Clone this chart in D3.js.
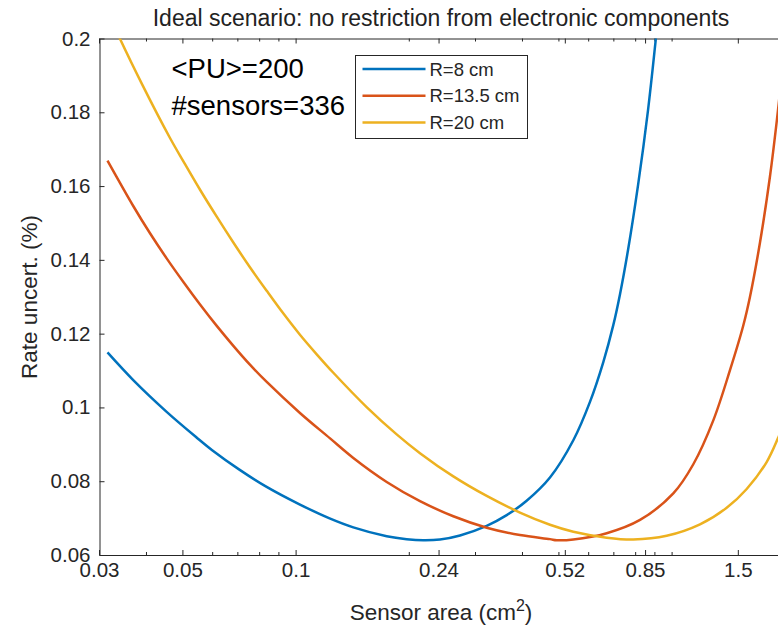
<!DOCTYPE html>
<html lang="en">
<head>
    <meta charset="UTF-8">
    <title>Ideal scenario: no restriction from electronic components</title>
    <script src="https://d3js.org/d3.v7.min.js"></script>
    <style>
        body {
            margin: 0;
            background: #fff;
        }
        svg {
            display: block;
            font-family: "Liberation Sans", Arial, Helvetica, sans-serif;
        }
    </style>
</head>
<body>
    <div id="chart"></div>

    <script>
        // series (sensor area in cm2, rate uncertainty in %)
        const seriesNames = ["R=8 cm", "R=13.5 cm", "R=20 cm"];
        const seriesColors = ["#0072BD", "#D95319", "#EDB120"];

        const r8Area = [0.0316, 0.0370, 0.0454, 0.0546, 0.0600, 0.0707, 0.0833, 0.1021, 0.1227, 0.1424,
            0.1747, 0.1974, 0.2186, 0.2421, 0.2737, 0.3223, 0.3643, 0.4116, 0.4748, 0.5478,
            0.6066, 0.6582, 0.6997, 0.7291, 0.7656, 0.8141, 0.8656, 0.9032, 0.9144];
        const r8Rate = [0.1149, 0.1074, 0.0988, 0.0918, 0.0884, 0.0832, 0.0786, 0.0738, 0.0700, 0.0675,
            0.0651, 0.0643, 0.0640, 0.0642, 0.0653, 0.0679, 0.0708, 0.0747, 0.0810, 0.0911,
            0.1015, 0.1123, 0.1223, 0.1307, 0.1426, 0.1602, 0.1806, 0.1977, 0.2031];

        const r13Area = [0.0316, 0.0370, 0.0410, 0.0454, 0.0503, 0.0557, 0.0617, 0.0683, 0.0756, 0.0838,
            0.1027, 0.1235, 0.1424, 0.1747, 0.2142, 0.2627, 0.3223, 0.3951, 0.4748, 0.4947,
            0.5478, 0.6721, 0.8241, 1.0104, 1.1422, 1.2909, 1.4298, 1.5511, 1.6162, 1.7182,
            1.8264, 1.9100, 2.0000];
        const r13Rate = [0.1669, 0.1546, 0.1472, 0.1404, 0.1340, 0.1279, 0.1221, 0.1167, 0.1116, 0.1069,
            0.0985, 0.0916, 0.0863, 0.0798, 0.0746, 0.0705, 0.0674, 0.0654, 0.0643, 0.0640,
            0.0642, 0.0659, 0.0695, 0.0767, 0.0846, 0.0965, 0.1101, 0.1222, 0.1300, 0.1447,
            0.1626, 0.1788, 0.1976];

        const r20Area = [0.0316, 0.0339, 0.0391, 0.0463, 0.0503, 0.0557, 0.0617, 0.0683, 0.0756, 0.0838,
            0.0927, 0.1027, 0.1138, 0.1260, 0.1545, 0.1857, 0.2142, 0.2627, 0.3223, 0.3951,
            0.4748, 0.5478, 0.6721, 0.7909, 0.9703, 1.1899, 1.4013, 1.5839, 1.7898, 1.9187,
            2.0000];
        const r20Rate = [0.2073, 0.2005, 0.1875, 0.1731, 0.1667, 0.1590, 0.1517, 0.1447, 0.1380, 0.1316,
            0.1255, 0.1197, 0.1144, 0.1094, 0.1001, 0.0927, 0.0876, 0.0813, 0.0760, 0.0715,
            0.0682, 0.0663, 0.0647, 0.0642, 0.0652, 0.0683, 0.0728, 0.0779, 0.0852, 0.0917,
            0.0963];

        const xTickValues = [0.03, 0.05, 0.1, 0.24, 0.52, 0.85, 1.5];
        const xTickLabels = ["0.03", "0.05", "0.1", "0.24", "0.52", "0.85", "1.5"];
        const xMinorTicks = [0.04, 0.06, 0.07, 0.08, 0.09, 0.2, 0.3, 0.4, 0.5, 0.6, 0.7, 0.8, 0.9, 1, 2];
        const yTickValues = [0.06, 0.08, 0.1, 0.12, 0.14, 0.16, 0.18, 0.2];
        const yTickLabels = ["0.06", "0.08", "0.1", "0.12", "0.14", "0.16", "0.18", "0.2"];

        const W = 778, H = 626;
        const axisColor = "#262626";

        // plot box: left 99, top 38.5, bottom 555; right edge falls just outside the window
        const x = d3.scaleLog()
            .domain([0.03, 2])
            .range([99, 99 + Math.log10(2 / 0.03) * 376]);
        const y = d3.scaleLinear()
            .domain([0.06, 0.2])
            .range([555, 38.5]);

        const svg = d3.select("#chart")
            .append("svg")
            .attr("width", W)
            .attr("height", H);

        svg.append("defs").append("clipPath")
            .attr("id", "plot-clip")
            .append("rect")
            .attr("x", x.range()[0])
            .attr("y", y.range()[1])
            .attr("width", x.range()[1] - x.range()[0])
            .attr("height", y.range()[0] - y.range()[1]);

        function styleAxis(g, showDomain) {
            g.attr("font-family", null).attr("font-size", null);
            g.selectAll("line").attr("stroke", axisColor);
            g.select(".domain").attr("stroke", axisColor).attr("display", showDomain ? null : "none");
            g.selectAll("text")
                .attr("fill", axisColor)
                .style("font-size", "20.5px");
        }

        // bottom axis (major + minor, ticks pointing inward)
        svg.append("g")
            .attr("transform", "translate(0,555)")
            .call(d3.axisBottom(x).tickValues(xMinorTicks).tickFormat("").tickSize(-3).tickSizeOuter(0))
            .call(g => styleAxis(g, false));
        svg.append("g")
            .attr("transform", "translate(0,555)")
            .call(d3.axisBottom(x).tickValues(xTickValues)
                .tickFormat((d, i) => xTickLabels[i])
                .tickSize(-5).tickSizeOuter(0).tickPadding(7))
            .call(g => styleAxis(g, true));

        // top axis
        svg.append("g")
            .attr("transform", "translate(0,38.5)")
            .call(d3.axisTop(x).tickValues(xMinorTicks).tickFormat("").tickSize(-3).tickSizeOuter(0))
            .call(g => styleAxis(g, false));
        svg.append("g")
            .attr("transform", "translate(0,38.5)")
            .call(d3.axisTop(x).tickValues(xTickValues).tickFormat("").tickSize(-5).tickSizeOuter(0))
            .call(g => styleAxis(g, true));

        // left axis
        svg.append("g")
            .attr("transform", "translate(99.5,0)")
            .call(d3.axisLeft(y).tickValues(yTickValues)
                .tickFormat((d, i) => yTickLabels[i])
                .tickSize(-5).tickSizeOuter(0).tickPadding(9))
            .call(g => styleAxis(g, true));

        // curves
        const line = d3.line()
            .x(d => x(d[0]))
            .y(d => y(d[1]))
            .curve(d3.curveCatmullRom.alpha(0.5));

        const series = [
            d3.zip(r8Area, r8Rate),
            d3.zip(r13Area, r13Rate),
            d3.zip(r20Area, r20Rate)
        ];

        svg.append("g")
            .attr("clip-path", "url(#plot-clip)")
            .selectAll("path")
            .data(series)
            .join("path")
            .attr("fill", "none")
            .attr("stroke", (d, i) => seriesColors[i])
            .attr("stroke-width", 2.5)
            .attr("d", line);

        // title and axis labels
        svg.append("text")
            .attr("x", 441)
            .attr("y", 26)
            .attr("text-anchor", "middle")
            .attr("fill", "#222")
            .style("font-size", "23px")
            .text("Ideal scenario: no restriction from electronic components");

        const xLabel = svg.append("text")
            .attr("x", 441)
            .attr("y", 620)
            .attr("text-anchor", "middle")
            .attr("fill", axisColor)
            .style("font-size", "22.5px");
        xLabel.append("tspan").text("Sensor area (cm");
        xLabel.append("tspan").attr("dy", -9).style("font-size", "16px").text("2");
        xLabel.append("tspan").attr("dy", 9).text(")");

        svg.append("text")
            .attr("transform", "translate(37,297) rotate(-90)")
            .attr("text-anchor", "middle")
            .attr("fill", axisColor)
            .style("font-size", "22.5px")
            .text("Rate uncert. (%)");

        // annotation
        const notes = ["<PU>=200", "#sensors=336"];
        svg.selectAll(".note")
            .data(notes)
            .join("text")
            .attr("class", "note")
            .attr("x", 171.5)
            .attr("y", (d, i) => 78 + i * 37)
            .attr("fill", "#000")
            .style("font-size", "27.5px")
            .text(d => d);

        // legend
        const legend = svg.append("g").attr("transform", "translate(355.5,55.5)");
        legend.append("rect")
            .attr("width", 172)
            .attr("height", 83)
            .attr("fill", "#fff")
            .attr("stroke", axisColor)
            .attr("stroke-width", 1);
        const item = legend.selectAll(".item")
            .data(seriesNames)
            .join("g")
            .attr("class", "item")
            .attr("transform", (d, i) => `translate(0,${13.5 + i * 26.8})`);
        item.append("line")
            .attr("x1", 7)
            .attr("x2", 70)
            .attr("stroke", (d, i) => seriesColors[i])
            .attr("stroke-width", 2.5);
        item.append("text")
            .attr("x", 74)
            .attr("y", 6.5)
            .attr("fill", axisColor)
            .style("font-size", "18.5px")
            .text(d => d);
    </script>
</body>
</html>
